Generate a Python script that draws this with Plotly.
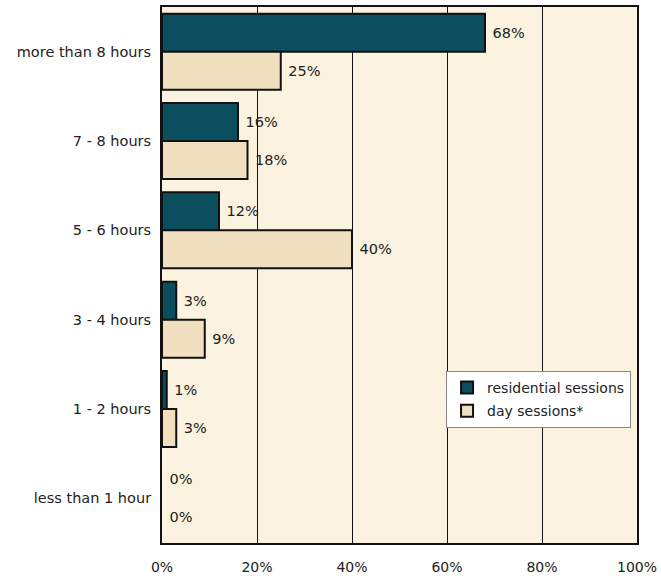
import plotly.graph_objects as go

categories = ["more than 8 hours", "7 - 8 hours", "5 - 6 hours", "3 - 4 hours", "1 - 2 hours", "less than 1 hour"]
residential = [68, 16, 12, 3, 1, 0]
day = [25, 18, 40, 9, 3, 0]
x_ticks = [0, 20, 40, 60, 80, 100]
x_tick_labels = ["0%", "20%", "40%", "60%", "80%", "100%"]

FAM = "DejaVu Sans, Verdana, sans-serif"
font = dict(family=FAM, size=14, color="#222222")

def lw(vals):
    return [2 if v > 0 else 0 for v in vals]

def labels(vals):
    return ["\u00a0" + f"{v}%" for v in vals]

fig = go.Figure()
fig.add_trace(go.Bar(
    y=categories, x=residential, orientation="h", name="residential sessions",
    legendgroup="r",
    marker=dict(color="#0B4F5E", line=dict(color="#111111", width=lw(residential))),
    text=labels(residential), textposition="outside", cliponaxis=False,
    textfont=dict(family=FAM, size=14.5, color="#222222"), constraintext="none",
    hoverinfo="skip",
))
fig.add_trace(go.Bar(
    y=categories, x=day, orientation="h", name="day sessions*",
    legendgroup="d",
    marker=dict(color="#F0E0C0", line=dict(color="#111111", width=lw(day))),
    text=labels(day), textposition="outside", cliponaxis=False,
    textfont=dict(family=FAM, size=14.5, color="#222222"), constraintext="none",
    hoverinfo="skip",
))

fig.update_layout(
    width=661, height=576,
    margin=dict(l=162, r=24, t=7, b=33, autoexpand=False),
    paper_bgcolor="white", plot_bgcolor="#FBF3DF",
    barmode="group", bargap=0.15, bargroupgap=0,
    font=font,
    showlegend=True,
    legend=dict(x=0.598, y=0.321, xanchor="left", yanchor="top",
                bgcolor="white", bordercolor="#888888", borderwidth=1,
                font=dict(family=FAM, size=14, color="#222222"),
                itemwidth=30, tracegroupgap=2),
    xaxis=dict(range=[0, 100], tickvals=x_ticks, ticktext=x_tick_labels,
               showgrid=True, gridcolor="#111111", gridwidth=1,
               showline=True, linecolor="#111111", linewidth=2, mirror=True,
               zeroline=False, ticks="", ticklabelstandoff=10, fixedrange=True,
               automargin=False,
               tickfont=dict(family=FAM, size=14, color="#222222")),
    yaxis=dict(autorange="reversed", showgrid=False,
               showline=True, linecolor="#111111", linewidth=2, mirror=True,
               ticks="", ticklabelstandoff=6, fixedrange=True, automargin=False,
               tickfont=dict(family=FAM, size=14.5, color="#222222")),
)

fig.write_html("out.html", config={"displayModeBar": False},
               post_script="document.body.style.margin='0';")
